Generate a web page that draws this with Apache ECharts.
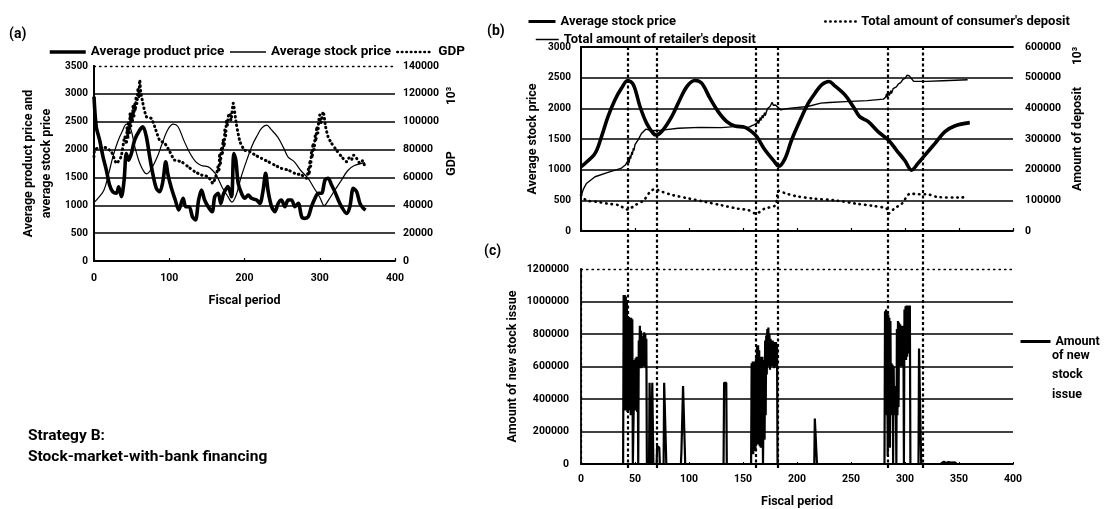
<!DOCTYPE html>
<html>
<head>
<meta charset="utf-8">
<script src="https://cdn.jsdelivr.net/npm/echarts@6/dist/echarts.min.js"></script>
<style>html,body{margin:0;padding:0;background:#fff;}#c{width:1106px;height:509px;}</style>
</head>
<body>
<div id="c"></div>
<script>
// ---------- data ----------
const productPrice = [[0,2950],[3,2410],[7.5,2170],[12,1870],[16.4,1630],[20.8,1360],[25,1240],[29.7,1215],[32.8,1330],[36.4,1155],[40,1450],[43,1930],[46,1810],[49.7,1930],[54,2170],[60.8,2350],[65,2410],[69.6,2230],[74,1870],[78.5,1540],[83,1300],[87.4,1245],[91.8,1450],[95.3,1780],[98.4,1545],[103,1300],[108,1095],[112.6,915],[118.4,1125],[122,975],[126.4,975],[130.8,795],[134.8,735],[139,1095],[142.8,1275],[147,1095],[151.7,975],[157,885],[160.5,1155],[165,1215],[168.5,1035],[171.6,1185],[174.7,1275],[178,1335],[182.7,1155],[185.8,1930],[188.5,1810],[191.6,1395],[196,1215],[200.4,1125],[205,1185],[209.3,1125],[216,1095],[220.4,1035],[224.8,1275],[228,1575],[231.5,1245],[236,975],[240.4,885],[244.8,1035],[249,1095],[253.7,975],[258,1095],[262.5,1095],[267,975],[271.4,1035],[276,795],[280,765],[284.7,795],[289,975],[293.6,1125],[298,1215],[302.4,1215],[307,1455],[311,1485],[315.7,1365],[320,1245],[324.6,1095],[329,975],[335.7,855],[340,975],[344.6,1305],[349,1245],[353.4,1035],[358,945],[361,915]];
const stockPrice = [[0,1047],[3.7,1100],[13,1265],[19,1540],[25,1865],[31.5,2140],[37.6,2330],[43.2,2455],[48.5,2385],[54.6,2030],[60.8,1755],[67,1590],[70,1565],[76,1650],[84,1865],[90,2085],[98,2355],[105.5,2455],[111.7,2410],[119.4,2165],[127,1947],[135,1784],[142.6,1713],[151.9,1690],[158,1620],[162.7,1540],[170.4,1320],[178,1156],[183.3,1058],[189,1184],[195,1484],[203,1810],[210.5,2084],[216.7,2247],[222.8,2384],[229.6,2438],[235,2367],[244.4,2220],[252,2030],[258,1865],[266,1784],[275,1620],[284.6,1484],[292,1320],[300,1145],[306,993],[312,1102],[318.5,1238],[327.8,1429],[337,1620],[346,1713],[360,1767]];
const gdp = [[0,74900],[1,80000],[5,80900],[14,81600],[23,78500],[30,70100],[36,74900],[41,89300],[43,84000],[44,96000],[45,88000],[46,100000],[47,92000],[48,106000],[49,97000],[50,106000],[51,100000],[52,112000],[53,104000],[54,113200],[55,108000],[56,118000],[57,113000],[58.5,124000],[59.5,117000],[60.8,130000],[62,122000],[65,113200],[69.6,103600],[76,102400],[80.7,96400],[87,86900],[94,84500],[100.7,78500],[107,72500],[116,71300],[125,67700],[134,64100],[143,61700],[151.7,60500],[158,55800],[163,62900],[165,68000],[166,64000],[167,77300],[168,70000],[169.5,82000],[170.5,76000],[171.6,86900],[173,82000],[174,95000],[175,90000],[176,101200],[177,97000],[178.5,104000],[180.5,106000],[182,101000],[185,113200],[189,98800],[194,85700],[200,79700],[207,78500],[214,76100],[222.6,73700],[231.5,71300],[240,68900],[249,66500],[258,65300],[267,62900],[276,61700],[282.5,59400],[285,66000],[286,62000],[287,72500],[288,68000],[289,78000],[290,74000],[291,84500],[292.5,80000],[294,90000],[295,86000],[296,96400],[297.5,92000],[298.5,100000],[300,104800],[301.5,99000],[304.6,107200],[307.8,96400],[311,89300],[315.7,84500],[322,79700],[329,74900],[335.7,71300],[339,74000],[342,72500],[345,76000],[349,73700],[353.4,70100],[357,72000],[360,67700]];
const retailerDeposit = [[0,111000],[2,135000],[5,155000],[13,177000],[25,191000],[37,204000],[41,215000],[43,226000],[44,236000],[44.5,222000],[45.5,246000],[46,236000],[47,258000],[47.5,248000],[48.5,270000],[49,262000],[50,282000],[51,276000],[53,298000],[56,318000],[60,332000],[66,327000],[75,329000],[90,335000],[110,338000],[130,337000],[148,342000],[155,338000],[160,346000],[163,352000],[164,362000],[164.5,350000],[166,370000],[166.5,360000],[168,378000],[168.5,368000],[170,386000],[170.5,376000],[172,392000],[173,400000],[175,406000],[177,420000],[178,410000],[180,411000],[185,395000],[192,400000],[210,406000],[222,417000],[230,419000],[245,422000],[265,425000],[280,430000],[282,436000],[283,448000],[283.5,436000],[285,452000],[285.5,442000],[287,458000],[287.5,448000],[289,464000],[290,458000],[292,470000],[294,480000],[296,484000],[298,494000],[300,498000],[302,508000],[304,506000],[308,488000],[320,488000],[335,490000],[358,493000]];
const consumerDeposit = [[0,117000],[5,100000],[15,95000],[25,89000],[35,84000],[43,70000],[50,84000],[58,100000],[64,128000],[68,136000],[75,128000],[85,117000],[100,106000],[115,95000],[130,84000],[145,73000],[155,68000],[162,57000],[170,73000],[180,84000],[183,131000],[190,122000],[200,113000],[215,106000],[235,100000],[255,89000],[270,82000],[283,73000],[285,57000],[290,73000],[297,89000],[305,122000],[312,120000],[320,120000],[330,111000],[350,109000],[358,111000]];
const newStockIssue = [[0,0],[39,0],[39.5,1040000],[40,380000],[40.5,1040000],[41,330000],[41.5,1030000],[42,350000],[42.5,1000000],[43,320000],[43.5,910000],[44,360000],[44.5,905000],[45,330000],[45.5,900000],[46,300000],[46.5,900000],[47,320000],[47.5,890000],[48,0],[49,0],[49.5,640000],[50,330000],[50.5,650000],[51,340000],[51.5,660000],[52,320000],[52.5,640000],[53,0],[53.5,760000],[54,590000],[54.5,850000],[55,600000],[55.5,820000],[56,590000],[56.5,770000],[57,600000],[57.5,790000],[58,610000],[58.5,810000],[59,600000],[59.5,800000],[60,590000],[60.5,770000],[61,0],[63,0],[63.5,500000],[64.5,500000],[65,0],[65.5,0],[66,500000],[66.5,490000],[67,0],[70,0],[70.5,110000],[72.5,100000],[73,0],[76.5,0],[77,500000],[78.5,500000],[79,0],[92.5,0],[93,80000],[94,90000],[94.5,480000],[96,480000],[96.5,0],[132,0],[132.5,500000],[134.5,500000],[135,0],
[157.5,0],[158,620000],[158.5,100000],[159,630000],[159.5,60000],[160,620000],[160.5,150000],[161,630000],[161.5,80000],[162,650000],[162.5,300000],[163,720000],[163.5,120000],[164,730000],[164.5,400000],[165,700000],[165.5,110000],[166,660000],[166.5,100000],[167,650000],[167.5,300000],[168,660000],[168.5,0],[169,0],[169.5,640000],[170,150000],[170.5,760000],[171,300000],[171.5,790000],[172,550000],[172.5,830000],[173,600000],[173.5,840000],[174,620000],[174.5,800000],[175,580000],[175.5,770000],[176,620000],[176.5,760000],[177,600000],[177.5,760000],[178,610000],[178.5,750000],[179,590000],[179.5,740000],[180,600000],[180.5,750000],[181,620000],[181.5,740000],[182,0],[216,0],[216.5,280000],[218,280000],[218.5,0],
[281,0],[281.5,940000],[282,300000],[282.5,950000],[283,350000],[283.5,930000],[284,50000],[284.5,920000],[285,400000],[285.5,900000],[286,100000],[286.5,880000],[287,300000],[287.5,620000],[288,300000],[288.5,610000],[289,0],[289.5,600000],[290,300000],[290.5,480000],[291,310000],[291.5,470000],[292,0],[292.5,830000],[293,300000],[293.5,880000],[294,350000],[294.5,870000],[295,620000],[295.5,860000],[296,600000],[296.5,850000],[297,620000],[297.5,840000],[298,600000],[298.5,850000],[299,0],[299.5,950000],[300,650000],[300.5,970000],[301,640000],[301.5,975000],[302,660000],[302.5,975000],[303,700000],[303.5,970000],[304,680000],[304.5,975000],[305,0],[312.5,0],[313,710000],[314.5,700000],[315,0],[333,0],[334,10000],[336,15000],[338,5000],[340,12000],[343,8000],[346,10000],[348,0],[360,0]];
const dashedPeriods = [43, 70, 162, 182, 284, 316];

// ---------- chart ----------
const FF = "Roboto, 'Noto Sans', 'DejaVu Sans', sans-serif";
const txt = (size, w) => ({ color: '#000', fontFamily: FF, fontSize: size, fontWeight: w || 'bold' });
const blk = (w, type) => ({ lineStyle: { color: '#000', width: w, type: type || 'solid' } });
const plain = v => String(v);
const noSym = { color: 'rgba(0,0,0,0)', borderColor: 'rgba(0,0,0,0)', borderWidth: 0, opacity: 0 };

function xAx(gi, opts) {
  return Object.assign({
    type: 'value', gridIndex: gi, min: 0, max: 400, interval: 50,
    axisLine: { show: true, onZero: false, ...blk(1.8) },
    axisTick: { show: false }, axisLabel: { show: false }, splitLine: { show: false }
  }, opts);
}
function yAx(gi, opts) {
  return Object.assign({
    type: 'value', gridIndex: gi, min: 0,
    axisLine: { show: true, ...blk(1.8) },
    axisTick: { show: false }, splitLine: { show: false },
    axisLabel: { ...txt(10.5), margin: 8, formatter: plain }
  }, opts);
}
function leg(opts) {
  return Object.assign({ itemHeight: 14, itemStyle: noSym }, opts);
}
const li = (name, width, type) => ({ name, lineStyle: { width, type: type || 'solid', color: '#000', cap: type ? 'round' : 'butt' } });

const chart = echarts.init(document.getElementById('c'), null, { renderer: 'canvas' });
const option = {
  animation: false,
  backgroundColor: '#fff',
  grid: [
    { left: 94, top: 66, width: 301, height: 195 },
    { left: 581, top: 47, width: 432, height: 184 },
    { left: 581, top: 269, width: 432, height: 195 },
    { left: 581, top: 46, width: 432, height: 422 }
  ],
  xAxis: [
    xAx(0, { interval: 100, axisLabel: { show: true, ...txt(10.5), margin: 12, formatter: plain },
      axisTick: { show: true, inside: true, length: 3, lineStyle: { color: '#000', width: 1.2 } },
      name: 'Fiscal period', nameLocation: 'middle', nameGap: 33, nameTextStyle: txt(12.5) }),
    xAx(0, { position: 'top', interval: 100, axisLine: { show: true, onZero: false, lineStyle: { color: '#000', width: 1.3, type: [1.5, 4] } } }),
    xAx(1, { axisTick: { show: true, inside: true, length: 3, lineStyle: { color: '#000', width: 1.2 } } }),
    xAx(1, { position: 'top' }),
    xAx(2, { axisLabel: { show: true, ...txt(10.5), margin: 10, formatter: plain },
      axisTick: { show: true, inside: true, length: 2, lineStyle: { color: '#000', width: 1 } },
      name: 'Fiscal period', nameLocation: 'middle', nameGap: 31, nameTextStyle: txt(12.5) }),
    xAx(2, { position: 'top', axisLine: { show: true, onZero: false, lineStyle: { color: '#000', width: 1.3, type: [1.5, 4] } } }),
    xAx(3, { show: false })
  ],
  yAxis: [
    yAx(0, { max: 3500, interval: 500, axisLabel: { ...txt(10), margin: 6, formatter: plain },
      splitLine: { show: true, showMaxLine: false, ...blk(1.6) },
      name: 'Average product price and\naverage stock price', nameLocation: 'middle', nameRotate: 90, nameGap: 38,
      nameTextStyle: { ...txt(12.5), lineHeight: 18 } }),
    yAx(0, { position: 'right', max: 140000, interval: 20000, axisLabel: { ...txt(10.5), margin: 8, formatter: plain },
      name: 'GDP', nameLocation: 'middle', nameRotate: 90, nameGap: 50, nameTextStyle: txt(12.5) }),
    yAx(1, { max: 3000, interval: 500, axisLabel: { ...txt(10), margin: 10, formatter: plain },
      splitLine: { show: true, ...blk(1.6) },
      name: 'Average stock price', nameLocation: 'middle', nameRotate: 90, nameGap: 42, nameTextStyle: txt(12.5) }),
    yAx(1, { position: 'right', max: 600000, interval: 100000, axisLabel: { ...txt(10.5), margin: 12, formatter: plain },
      name: 'Amount of deposit', nameLocation: 'middle', nameRotate: 90, nameGap: 58, nameTextStyle: txt(12.5) }),
    yAx(2, { max: 1200000, interval: 200000, axisLabel: { ...txt(10.5), margin: 12, formatter: plain },
      splitLine: { show: true, showMaxLine: false, ...blk(1.6) },
      name: 'Amount of new stock issue', nameLocation: 'middle', nameRotate: 90, nameGap: 62, nameTextStyle: txt(12.5) }),
    yAx(2, { position: 'right', max: 1200000, interval: 200000, axisLabel: { show: false },
      axisLine: { show: true, lineStyle: { color: '#000', width: 1.3, type: [1.5, 4] } } }),
    yAx(3, { show: false, max: 1 })
  ],
  legend: [
    leg({ left: 43, top: 40, itemWidth: 36, itemGap: 5, textStyle: txt(13.5),
      data: [li('Average product price', 3.5), li('Average stock price', 1.3), li('GDP', 2.6, [0.5, 4])] }),
    leg({ left: 522, top: 10, itemWidth: 27, textStyle: txt(13),
      data: [li('Average stock price ', 3)] }),
    leg({ left: 530, top: 28, itemWidth: 23, textStyle: txt(13),
      data: [li("Total amount of retailer's deposit", 1.5)] }),
    leg({ left: 819, top: 10, itemWidth: 31, textStyle: txt(13),
      data: [li("Total amount of consumer's deposit", 2.4, [0.5, 4.5])] }),
    leg({ left: 1014, top: 330, itemWidth: 30, itemGap: 4, textStyle: txt(12.5),
      data: [li('Amount', 3)] })
  ],
  graphic: [
    { type: 'text', left: 9, top: 27, style: { text: '(a)', font: 'bold 14px ' + FF, fill: '#000' } },
    { type: 'text', left: 487, top: 24, style: { text: '(b)', font: 'bold 14px ' + FF, fill: '#000' } },
    { type: 'text', left: 484, top: 244, style: { text: '(c)', font: 'bold 14px ' + FF, fill: '#000' } },
    { type: 'text', left: 1052, top: 346, style: { text: 'of new\nstock\nissue', font: 'bold 12.5px ' + FF, lineHeight: 19.5, fill: '#000' } },
    { type: 'text', left: 28, top: 426, style: { text: 'Strategy B:\nStock-market-with-bank financing', font: 'bold 15.5px ' + FF, lineHeight: 21, fill: '#000' } },
    { type: 'text', x: 452, y: 96, rotation: Math.PI / 2, style: { text: '10³', font: 'bold 12px ' + FF, fill: '#000', align: 'center', verticalAlign: 'middle' } },
    { type: 'text', x: 1078, y: 56, rotation: Math.PI / 2, style: { text: '10³', font: 'bold 12px ' + FF, fill: '#000', align: 'center', verticalAlign: 'middle' } }
  ],
  series: [
    { name: 'Average product price', type: 'line', xAxisIndex: 0, yAxisIndex: 0, data: productPrice, symbol: 'none', smooth: 0.3,
      lineStyle: { color: '#000', width: 3.6 }, itemStyle: { color: '#000' }, z: 4 },
    { name: 'Average stock price', type: 'line', xAxisIndex: 0, yAxisIndex: 0, data: stockPrice, symbol: 'none', smooth: 0.35,
      lineStyle: { color: '#000', width: 1.2 }, itemStyle: { color: '#000' }, z: 3 },
    { name: 'GDP', type: 'line', xAxisIndex: 0, yAxisIndex: 1, data: gdp, symbol: 'none', smooth: 0.2,
      lineStyle: { color: '#000', width: 3, type: [0.5, 4], cap: 'round' }, itemStyle: { color: '#000' }, z: 3 },
    { name: 'Average stock price ', type: 'line', xAxisIndex: 2, yAxisIndex: 2, data: stockPrice, symbol: 'none', smooth: 0.35,
      lineStyle: { color: '#000', width: 3.6 }, itemStyle: { color: '#000' }, z: 4 },
    { name: "Total amount of retailer's deposit", type: 'line', xAxisIndex: 2, yAxisIndex: 3, data: retailerDeposit, symbol: 'none',
      lineStyle: { color: '#000', width: 1.4 }, itemStyle: { color: '#000' }, z: 3 },
    { name: "Total amount of consumer's deposit", type: 'line', xAxisIndex: 2, yAxisIndex: 3, data: consumerDeposit, symbol: 'none', smooth: 0.3,
      lineStyle: { color: '#000', width: 2.6, type: [0.5, 5], cap: 'round' }, itemStyle: { color: '#000' }, z: 3 },
    { name: 'Amount', type: 'line', xAxisIndex: 4, yAxisIndex: 4, data: newStockIssue, symbol: 'none',
      lineStyle: { color: '#000', width: 2.2 }, itemStyle: { color: '#000' }, z: 3 },
    { name: 'periods', type: 'line', xAxisIndex: 6, yAxisIndex: 6, data: [], symbol: 'none', z: 10,
      markLine: { silent: true, symbol: ['none', 'none'], label: { show: false }, animation: false,
        lineStyle: { color: '#000', width: 2.2, type: [3, 2.5] },
        data: dashedPeriods.map(p => ({ xAxis: p })) } }
  ]
};
chart.setOption(option);
</script>
</body>
</html>
